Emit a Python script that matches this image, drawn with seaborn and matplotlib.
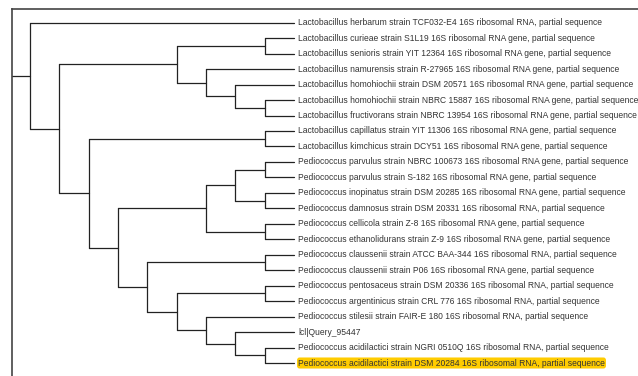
import numpy as np
import pandas as pd
import matplotlib
matplotlib.use("Agg")
import matplotlib.pyplot as plt
import seaborn as sns

# =========================================
# leaves (top to bottom)
# =========================================
leaves = [
    "Lactobacillus herbarum strain TCF032-E4 16S ribosomal RNA, partial sequence",
    "Lactobacillus curieae strain S1L19 16S ribosomal RNA gene, partial sequence",
    "Lactobacillus senioris strain YIT 12364 16S ribosomal RNA gene, partial sequence",
    "Lactobacillus namurensis strain R-27965 16S ribosomal RNA gene, partial sequence",
    "Lactobacillus homohiochii strain DSM 20571 16S ribosomal RNA gene, partial sequence",
    "Lactobacillus homohiochii strain NBRC 15887 16S ribosomal RNA gene, partial sequence",
    "Lactobacillus fructivorans strain NBRC 13954 16S ribosomal RNA gene, partial sequence",
    "Lactobacillus capillatus strain YIT 11306 16S ribosomal RNA gene, partial sequence",
    "Lactobacillus kimchicus strain DCY51 16S ribosomal RNA gene, partial sequence",
    "Pediococcus parvulus strain NBRC 100673 16S ribosomal RNA gene, partial sequence",
    "Pediococcus parvulus strain S-182 16S ribosomal RNA gene, partial sequence",
    "Pediococcus inopinatus strain DSM 20285 16S ribosomal RNA gene, partial sequence",
    "Pediococcus damnosus strain DSM 20331 16S ribosomal RNA, partial sequence",
    "Pediococcus cellicola strain Z-8 16S ribosomal RNA gene, partial sequence",
    "Pediococcus ethanolidurans strain Z-9 16S ribosomal RNA gene, partial sequence",
    "Pediococcus claussenii strain ATCC BAA-344 16S ribosomal RNA, partial sequence",
    "Pediococcus claussenii strain P06 16S ribosomal RNA gene, partial sequence",
    "Pediococcus pentosaceus strain DSM 20336 16S ribosomal RNA, partial sequence",
    "Pediococcus argentinicus strain CRL 776 16S ribosomal RNA, partial sequence",
    "Pediococcus stilesii strain FAIR-E 180 16S ribosomal RNA, partial sequence",
    "lcl|Query_95447",
    "Pediococcus acidilactici strain NGRI 0510Q 16S ribosomal RNA, partial sequence",
    "Pediococcus acidilactici strain DSM 20284 16S ribosomal RNA, partial sequence",
]
highlight = "Pediococcus acidilactici strain DSM 20284 16S ribosomal RNA, partial sequence"
leaf_depth = 9

# internal nodes: name -> (depth, children); ints are leaf indices
clades = {
    "A": (0, [0, "B"]),
    "B": (1, ["C", "D"]),
    "C": (5, ["C1", "C2"]),
    "C1": (8, [1, 2]),
    "C2": (6, [3, "C3"]),
    "C3": (7, [4, "C4"]),
    "C4": (8, [5, 6]),
    "D": (2, ["D1", "D2"]),
    "D1": (8, [7, 8]),
    "D2": (3, ["E", "F"]),
    "E": (6, ["E1", "E4"]),
    "E1": (7, ["E2", "E3"]),
    "E2": (8, [9, 10]),
    "E3": (8, [11, 12]),
    "E4": (8, [13, 14]),
    "F": (4, ["F1", "F2"]),
    "F1": (8, [15, 16]),
    "F2": (5, ["F3", "F4"]),
    "F3": (8, [17, 18]),
    "F4": (6, [19, "F5"]),
    "F5": (7, [20, "F6"]),
    "F6": (8, [21, 22]),
}
root = "A"

# =========================================
# build segments
# =========================================
segs = []


def place(node):
    if isinstance(node, int):
        return leaf_depth, float(node)
    depth, kids = clades[node]
    ys = []
    for k in kids:
        kx, ky = place(k)
        segs.append([(depth, ky), (kx, ky)])
        ys.append(ky)
    segs.append([(depth, min(ys)), (depth, max(ys))])
    return depth, np.mean(ys)


rx, ry = place(root)
segs.append([(-0.62, ry), (rx, ry)])

rows = []
for i, s in enumerate(segs):
    for (x, y) in s:
        rows.append({"seg": i, "x": x, "y": y})
df = pd.DataFrame(rows)

# =========================================
# plot
# =========================================
sns.set_theme(style="white")
plt.rcParams["font.family"] = ["Liberation Sans", "DejaVu Sans"]

fig = plt.figure(figsize=(6.38, 3.76), dpi=100)
ax = fig.add_axes([12 / 638, 0, 626 / 638, 367 / 376])

sns.lineplot(data=df, x="x", y="y", units="seg", estimator=None, sort=False,
             color="#222222", linewidth=0.9, ax=ax, legend=False)

for i, name in enumerate(leaves):
    kw = {}
    if name == highlight:
        kw["bbox"] = dict(boxstyle="round,pad=0.12,rounding_size=0.3",
                          fc="#ffcc00", ec="none")
    ax.text(leaf_depth + 0.14, i, name, fontsize=6.15, color="#333333",
            va="center", ha="left", clip_on=False, **kw)

ax.set_xlim(-0.614, 20.73)
ax.set_ylim(22.84, -0.886)
ax.set_xlabel("")
ax.set_ylabel("")
ax.set_xticks([])
ax.set_yticks([])
for side in ["right", "bottom"]:
    ax.spines[side].set_visible(False)
for side in ["top", "left"]:
    ax.spines[side].set_color("#444444")
    ax.spines[side].set_linewidth(1.2)

fig.savefig("out.png", dpi=100)
